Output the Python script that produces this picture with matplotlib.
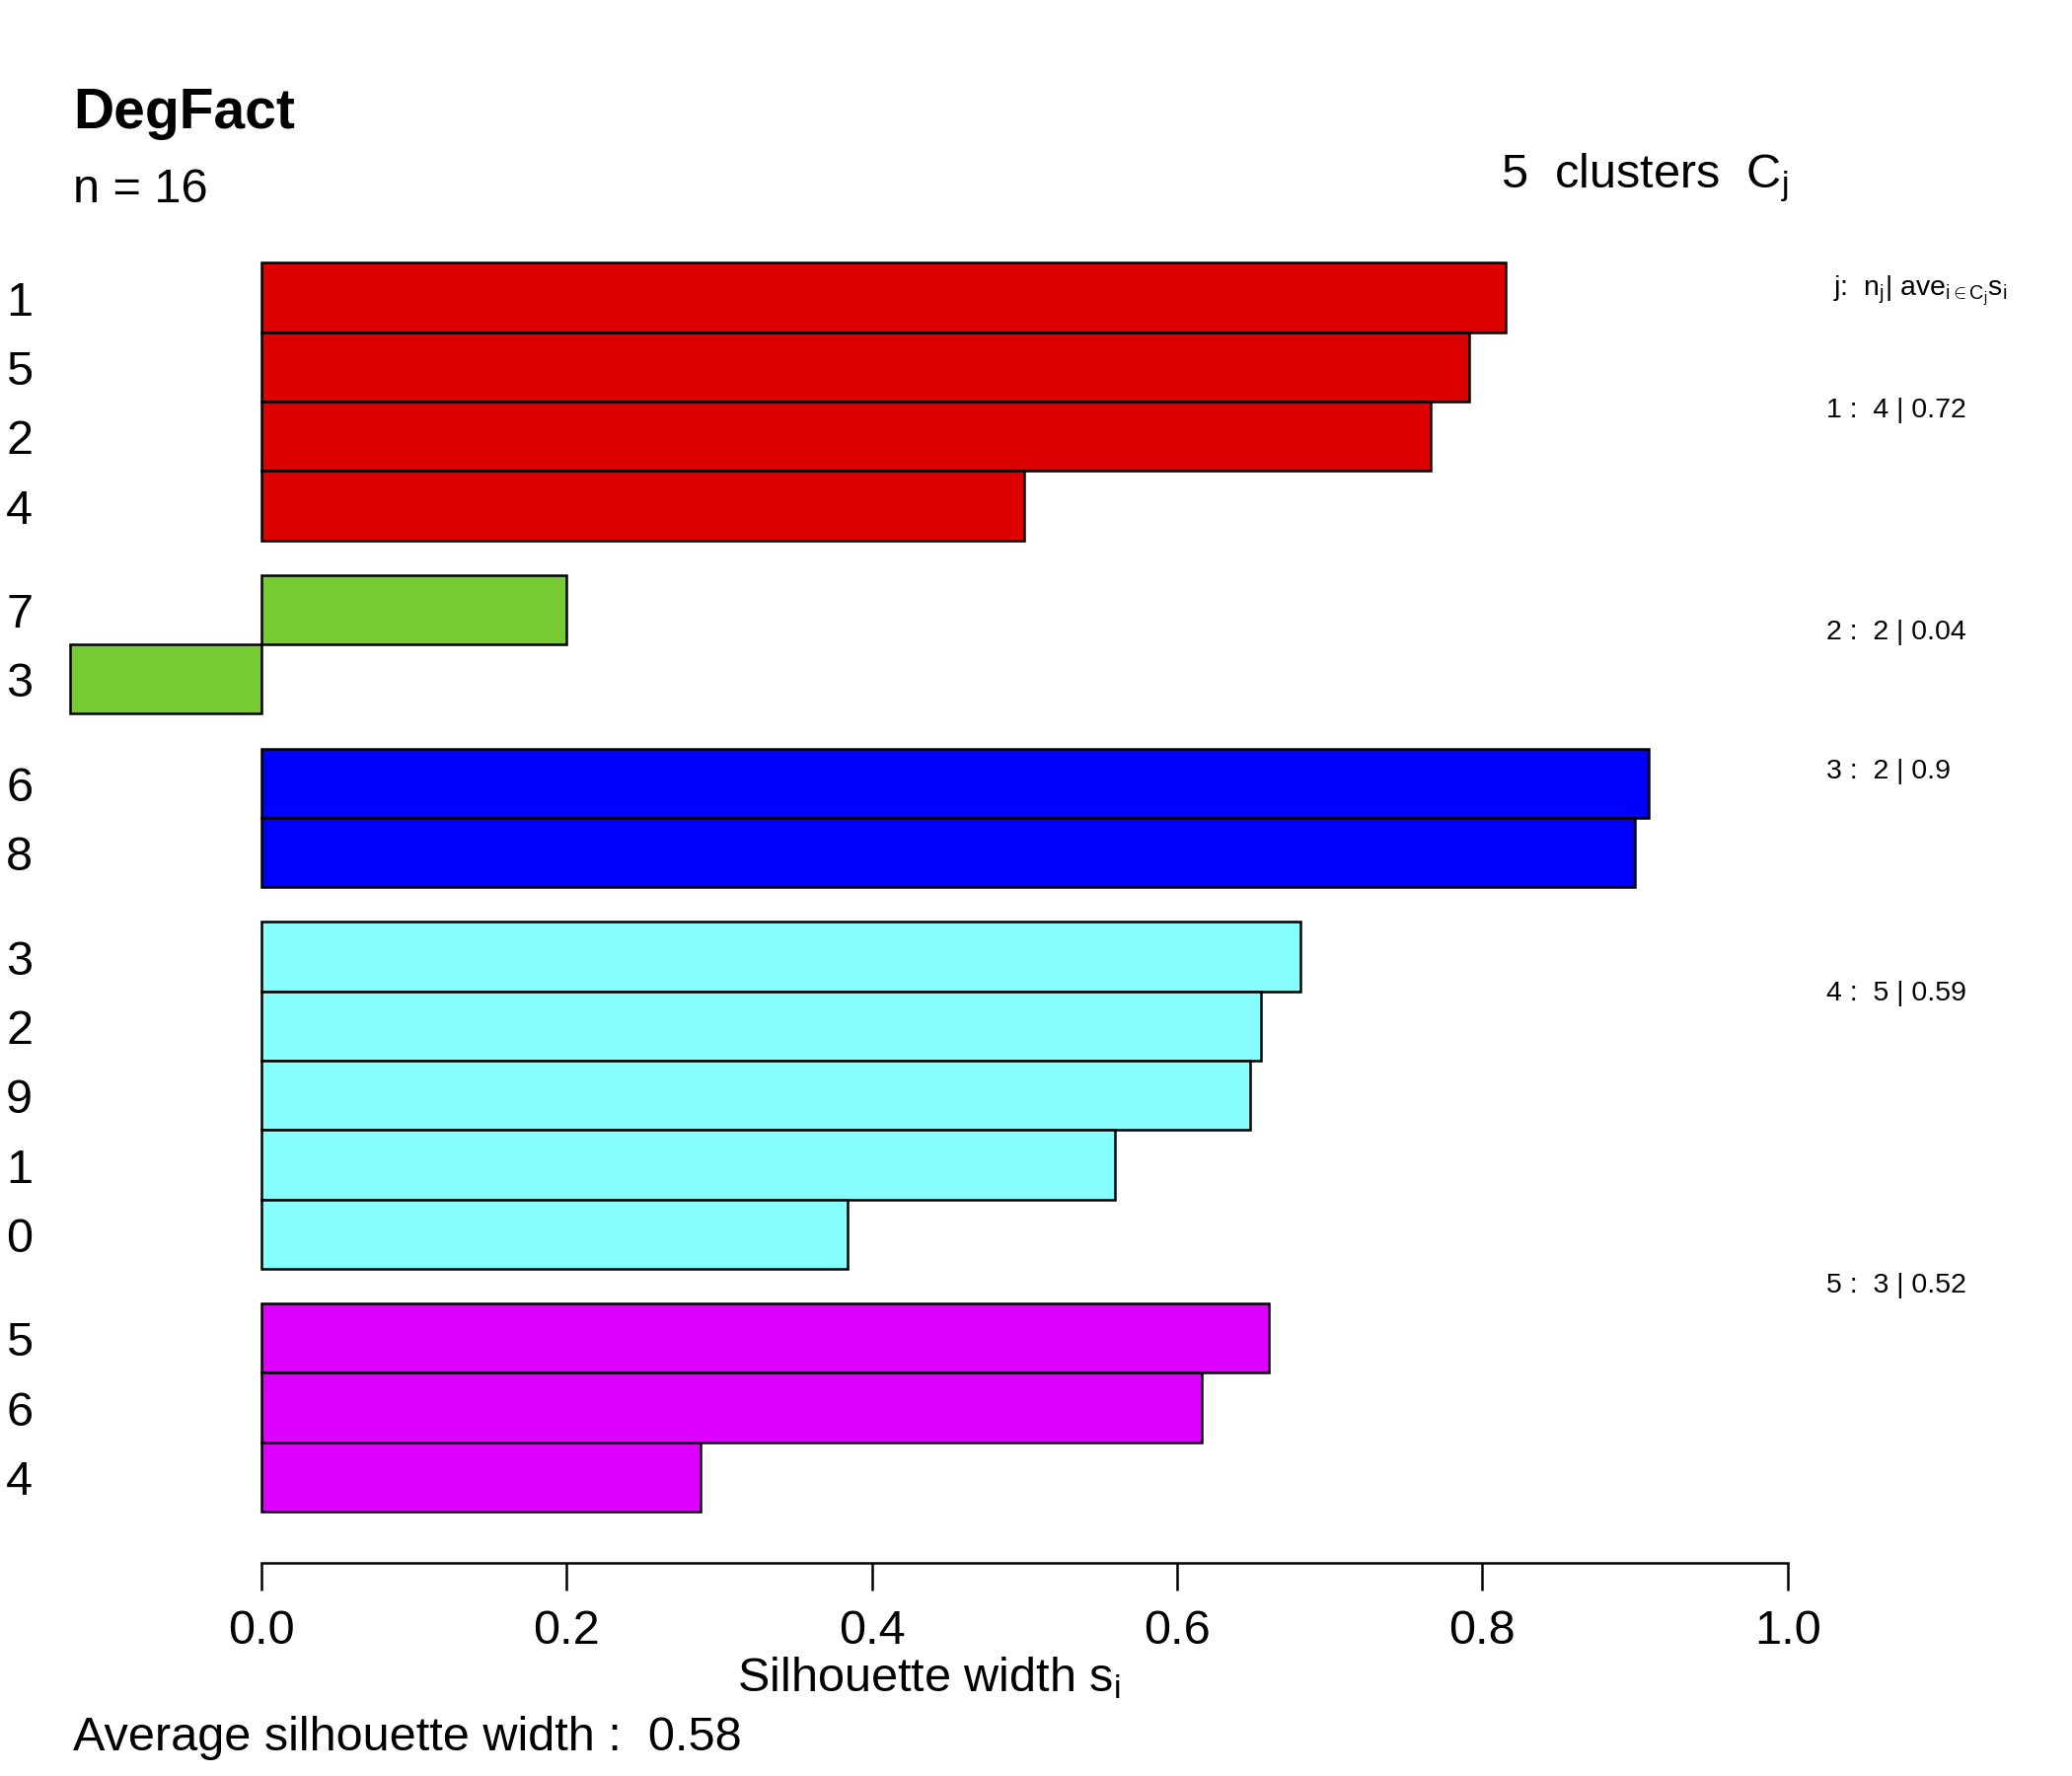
import numpy as np
import matplotlib
matplotlib.use("Agg")
import matplotlib.pyplot as plt
from matplotlib.patches import Rectangle

plt.rcParams['font.family'] = ['Liberation Sans', 'DejaVu Sans']
plt.rcParams['mathtext.fontset'] = 'custom'
plt.rcParams['mathtext.rm'] = 'Liberation Sans'
plt.rcParams['mathtext.it'] = 'Liberation Sans'

# dane: silhouette width po klastrach (od góry)
cluster_ids = [1, 2, 3, 4, 5]
cluster_sizes = [4, 2, 2, 5, 3]
cluster_avg = ["0.72", "0.04", "0.9", "0.59", "0.52"]
cluster_colors = ["#DD0000", "#77CC33", "#0000FF", "#88FFFF", "#DD00FF"]
row_labels = ["1", "5", "2", "4", "7", "3", "6", "8", "3", "2", "9", "1", "0", "5", "6", "4"]
sil_width = [0.815, 0.791, 0.766, 0.500,
             0.200, -0.1255,
             0.909, 0.900,
             0.681, 0.655, 0.648, 0.559, 0.384,
             0.660, 0.616, 0.288]
# pozycje tekstów statystyk (y w jednostkach słupków)
stat_y = [15.87, 12.67, 10.67, 7.47, 3.25]
avg_total = "0.58"

fig = plt.figure(figsize=(21, 18), dpi=100)
ax = fig.add_axes([0.023, 0.12, 0.8398, 0.7398])
ax.set_xlim(-0.14, 1.0)
ax.set_ylim(-0.74, 18.2)

# pozycje słupków: wysokość 1, przerwa 0.5 między klastrami
total = sum(cluster_sizes) + 0.5 * (len(cluster_sizes) - 1)
top = total
k = 0
for ci, size in enumerate(cluster_sizes):
    for i in range(size):
        y0 = top - 1
        ax.add_patch(Rectangle((0, y0), sil_width[k], 1, facecolor=cluster_colors[ci],
                               edgecolor='black', linewidth=1.8))
        ax.text(-0.1585, y0 + 0.42, row_labels[k], transform=ax.transData,
                ha='center', va='center', fontsize=35, clip_on=False)
        k += 1
        top = y0
    top -= 0.5

for j, yj in enumerate(stat_y):
    ax.text(1.025, yj, f"{cluster_ids[j]} :  {cluster_sizes[j]} | {cluster_avg[j]}",
            ha='left', va='center', fontsize=20.5, clip_on=False)

ax.text(1.030, 17.6, r"j:  n$_\mathrm{j}$| ave$_{\mathrm{i}\in\mathrm{C}_\mathrm{j}}$s$_\mathrm{i}$",
        ha='left', va='center', fontsize=20.5, clip_on=False)

for s in ['top', 'right', 'left']:
    ax.spines[s].set_visible(False)
ax.spines['bottom'].set_bounds(0, 1)
ax.spines['bottom'].set_linewidth(1.8)
ax.set_yticks([])
ax.set_xticks([0.0, 0.2, 0.4, 0.6, 0.8, 1.0])
ax.set_xticklabels(["0.0", "0.2", "0.4", "0.6", "0.8", "1.0"])
ax.tick_params(axis='x', labelsize=35, length=20, width=1.8, pad=14)

fig.text(941 / 2100, 1 - 1714 / 1800, r"Silhouette width s$_\mathrm{i}$", ha='center',
         va='baseline', fontsize=35)
fig.text(74 / 2100, 1 - 1774 / 1800, "Average silhouette width :  " + avg_total,
         ha='left', va='baseline', fontsize=35)
fig.text(74 / 2100, 1 - 130 / 1800, "DegFact", ha='left', va='baseline',
         fontsize=41, fontweight='bold')
fig.text(74 / 2100, 1 - 205 / 1800, "n = 16", ha='left', va='baseline', fontsize=35)
fig.text(1812 / 2100, 1 - 190 / 1800, r"5  clusters  C$_\mathrm{j}$", ha='right',
         va='baseline', fontsize=35)

fig.savefig("out.png", dpi=100)
